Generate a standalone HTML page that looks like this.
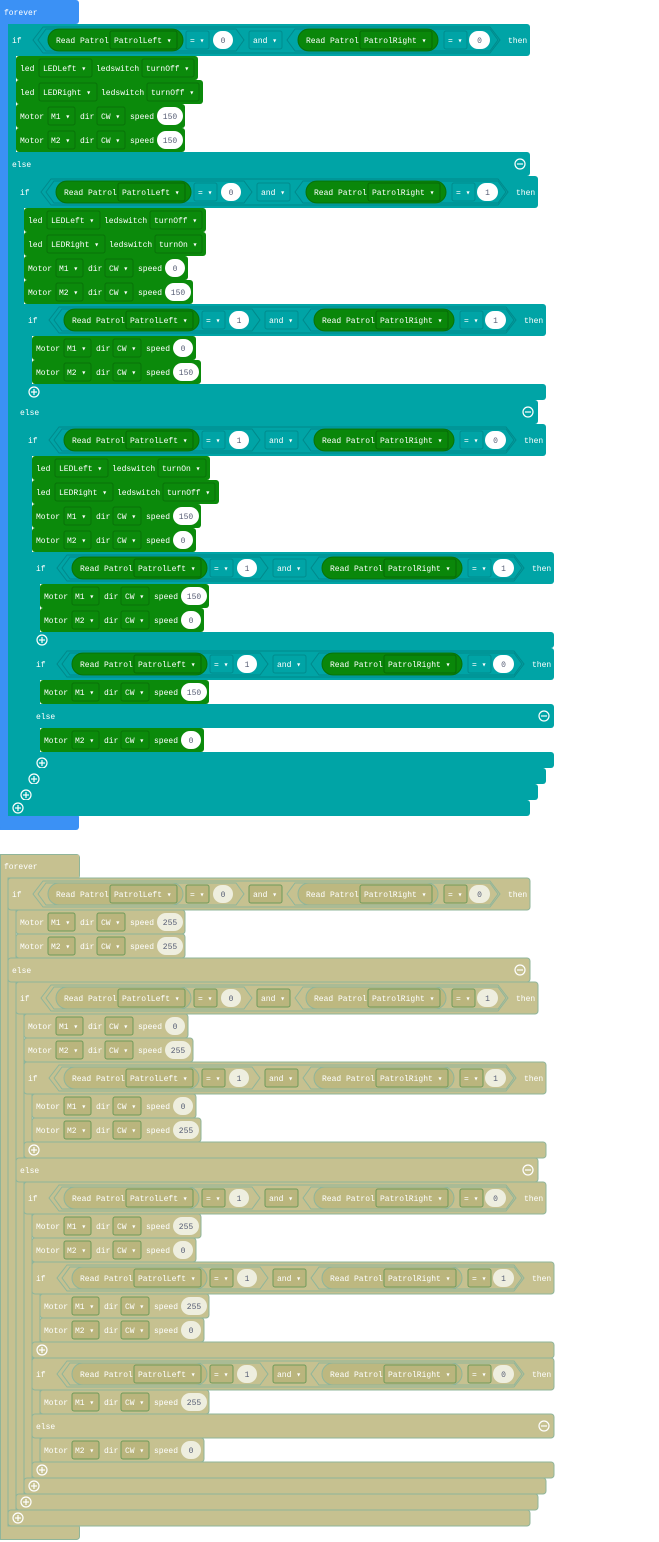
<!DOCTYPE html>
<html><head><meta charset="utf-8"><style>
html,body{margin:0;padding:0;background:#fff;width:659px;height:1542px;overflow:hidden}
svg{display:block}
text{fill:#fff;font-family:"Liberation Mono","DejaVu Sans Mono",monospace;font-size:8px}
.vt{fill:#575e75;text-anchor:middle}
.ic{fill:none;stroke:#fff;stroke-width:1.2}
.s1 .c{fill:#00a4a6}
.s1 .fv{fill:#3b91f5}
.s1 .b{fill:#0b8a0b}
.s1 .d{fill:none;stroke:#087208}
.s1 .e{fill:none;stroke:#008b8d}
.s1 .p{fill:#0a870a;stroke:#087208}
.s1 .pd{fill:none;stroke:#066a06}
.s1 .h{fill:none;stroke:#00898b}
.s1 .v{fill:#fff}
.s2 .c,.s2 .b,.s2 .fv{fill:#c6c190;stroke:#8fb59a;stroke-width:1}
.s2 .d,.s2 .e,.s2 .pd{fill:#bab57d;stroke:#6f9a5a}
.s2 .p{fill:#bdb880;stroke:#8fb59a}
.s2 .h{fill:none;stroke:#8fb59a}
.s2 .v{fill:#eeeedf}
</style></head><body>
<svg width="659" height="1542" viewBox="0 0 659 1542" xmlns="http://www.w3.org/2000/svg">

<!-- ================= SECTION 1 ================= -->
<g class="s1">
<rect class="fv" x="0" y="0" width="79" height="24" rx="3"/>
<rect class="fv" x="0" y="0" width="8" height="830"/>
<rect class="fv" x="0" y="814" width="79" height="16" rx="3"/>
<text x="4" y="15">forever</text>

<rect class="c" x="8" y="24" width="8" height="792"/>
<rect class="c" x="16" y="176" width="8" height="624"/>
<rect class="c" x="24" y="304" width="8" height="96"/>
<rect class="c" x="24" y="424" width="8" height="360"/>
<rect class="c" x="32" y="552" width="8" height="96"/>
<rect class="c" x="32" y="648" width="8" height="120"/>

<g transform="translate(8,40)"><rect class="c" x="0" y="-16" width="522" height="32" rx="3"/><text x="4" y="3">if</text><polygon class="h" points="25,0 35,-13 482,-13 492,0 482,13 35,13"/><polygon class="h" points="30,0 38,-11 228,-11 236,0 228,11 38,11"/><polygon class="h" points="279,0 287,-11 482,-11 490,0 482,11 287,11"/><rect class="p" x="40" y="-11" width="135" height="22" rx="11"/><text x="48" y="3">Read Patrol</text><rect class="pd" x="102" y="-9" width="67" height="18" rx="2"/><text x="106" y="3">PatrolLeft ▾</text><rect class="e" x="178" y="-9" width="23" height="18" rx="2"/><text x="182" y="3">= ▾</text><rect class="v" x="205" y="-9" width="20" height="18" rx="9"/><text class="vt" x="215" y="3">0</text><rect class="e" x="241" y="-9" width="33" height="18" rx="2"/><text x="245" y="3">and ▾</text><rect class="p" x="290" y="-11" width="140" height="22" rx="11"/><text x="298" y="3">Read Patrol</text><rect class="pd" x="352" y="-9" width="72" height="18" rx="2"/><text x="356" y="3">PatrolRight ▾</text><rect class="e" x="436" y="-9" width="23" height="18" rx="2"/><text x="440" y="3">= ▾</text><rect class="v" x="461" y="-9" width="21" height="18" rx="9"/><text class="vt" x="471.5" y="3">0</text><text x="500" y="3">then</text></g>

<g transform="translate(16,68)"><rect class="b" x="0" y="-12" width="182" height="24" rx="3"/><text x="4" y="3">led</text><rect class="d" x="23" y="-9" width="53" height="18" rx="2"/><text x="27" y="3">LEDLeft ▾</text><text x="80" y="3">ledswitch</text><rect class="d" x="126" y="-9" width="52" height="18" rx="2"/><text x="130" y="3">turnOff ▾</text></g>
<g transform="translate(16,92)"><rect class="b" x="0" y="-12" width="187" height="24" rx="3"/><text x="4" y="3">led</text><rect class="d" x="23" y="-9" width="58" height="18" rx="2"/><text x="27" y="3">LEDRight ▾</text><text x="85" y="3">ledswitch</text><rect class="d" x="131" y="-9" width="52" height="18" rx="2"/><text x="135" y="3">turnOff ▾</text></g>
<g transform="translate(16,116)"><rect class="b" x="0" y="-12" width="169" height="24" rx="3"/><text x="4" y="3">Motor</text><rect class="d" x="32" y="-9" width="27" height="18" rx="2"/><text x="35" y="3">M1 ▾</text><text x="64" y="3">dir</text><rect class="d" x="81" y="-9" width="28" height="18" rx="2"/><text x="85" y="3">CW ▾</text><text x="114" y="3">speed</text><rect class="v" x="141" y="-9" width="26" height="18" rx="9"/><text class="vt" x="154" y="3">150</text></g>
<g transform="translate(16,140)"><rect class="b" x="0" y="-12" width="169" height="24" rx="3"/><text x="4" y="3">Motor</text><rect class="d" x="32" y="-9" width="27" height="18" rx="2"/><text x="35" y="3">M2 ▾</text><text x="64" y="3">dir</text><rect class="d" x="81" y="-9" width="28" height="18" rx="2"/><text x="85" y="3">CW ▾</text><text x="114" y="3">speed</text><rect class="v" x="141" y="-9" width="26" height="18" rx="9"/><text class="vt" x="154" y="3">150</text></g>

<g transform="translate(8,164)"><rect class="c" x="0" y="-12" width="522" height="24" rx="3"/><text x="4" y="3">else</text><circle class="ic" cx="512" cy="0" r="5"/><line class="ic" x1="509" y1="0" x2="515" y2="0"/></g>

<g transform="translate(16,192)"><rect class="c" x="0" y="-16" width="522" height="32" rx="3"/><text x="4" y="3">if</text><polygon class="h" points="25,0 35,-13 482,-13 492,0 482,13 35,13"/><polygon class="h" points="30,0 38,-11 228,-11 236,0 228,11 38,11"/><polygon class="h" points="279,0 287,-11 482,-11 490,0 482,11 287,11"/><rect class="p" x="40" y="-11" width="135" height="22" rx="11"/><text x="48" y="3">Read Patrol</text><rect class="pd" x="102" y="-9" width="67" height="18" rx="2"/><text x="106" y="3">PatrolLeft ▾</text><rect class="e" x="178" y="-9" width="23" height="18" rx="2"/><text x="182" y="3">= ▾</text><rect class="v" x="205" y="-9" width="20" height="18" rx="9"/><text class="vt" x="215" y="3">0</text><rect class="e" x="241" y="-9" width="33" height="18" rx="2"/><text x="245" y="3">and ▾</text><rect class="p" x="290" y="-11" width="140" height="22" rx="11"/><text x="298" y="3">Read Patrol</text><rect class="pd" x="352" y="-9" width="72" height="18" rx="2"/><text x="356" y="3">PatrolRight ▾</text><rect class="e" x="436" y="-9" width="23" height="18" rx="2"/><text x="440" y="3">= ▾</text><rect class="v" x="461" y="-9" width="21" height="18" rx="9"/><text class="vt" x="471.5" y="3">1</text><text x="500" y="3">then</text></g>

<g transform="translate(24,220)"><rect class="b" x="0" y="-12" width="182" height="24" rx="3"/><text x="4" y="3">led</text><rect class="d" x="23" y="-9" width="53" height="18" rx="2"/><text x="27" y="3">LEDLeft ▾</text><text x="80" y="3">ledswitch</text><rect class="d" x="126" y="-9" width="52" height="18" rx="2"/><text x="130" y="3">turnOff ▾</text></g>
<g transform="translate(24,244)"><rect class="b" x="0" y="-12" width="182" height="24" rx="3"/><text x="4" y="3">led</text><rect class="d" x="23" y="-9" width="58" height="18" rx="2"/><text x="27" y="3">LEDRight ▾</text><text x="85" y="3">ledswitch</text><rect class="d" x="131" y="-9" width="47" height="18" rx="2"/><text x="135" y="3">turnOn ▾</text></g>
<g transform="translate(24,268)"><rect class="b" x="0" y="-12" width="164" height="24" rx="3"/><text x="4" y="3">Motor</text><rect class="d" x="32" y="-9" width="27" height="18" rx="2"/><text x="35" y="3">M1 ▾</text><text x="64" y="3">dir</text><rect class="d" x="81" y="-9" width="28" height="18" rx="2"/><text x="85" y="3">CW ▾</text><text x="114" y="3">speed</text><rect class="v" x="141" y="-9" width="20" height="18" rx="9"/><text class="vt" x="151" y="3">0</text></g>
<g transform="translate(24,292)"><rect class="b" x="0" y="-12" width="169" height="24" rx="3"/><text x="4" y="3">Motor</text><rect class="d" x="32" y="-9" width="27" height="18" rx="2"/><text x="35" y="3">M2 ▾</text><text x="64" y="3">dir</text><rect class="d" x="81" y="-9" width="28" height="18" rx="2"/><text x="85" y="3">CW ▾</text><text x="114" y="3">speed</text><rect class="v" x="141" y="-9" width="26" height="18" rx="9"/><text class="vt" x="154" y="3">150</text></g>

<g transform="translate(24,320)"><rect class="c" x="0" y="-16" width="522" height="32" rx="3"/><text x="4" y="3">if</text><polygon class="h" points="25,0 35,-13 482,-13 492,0 482,13 35,13"/><polygon class="h" points="30,0 38,-11 228,-11 236,0 228,11 38,11"/><polygon class="h" points="279,0 287,-11 482,-11 490,0 482,11 287,11"/><rect class="p" x="40" y="-11" width="135" height="22" rx="11"/><text x="48" y="3">Read Patrol</text><rect class="pd" x="102" y="-9" width="67" height="18" rx="2"/><text x="106" y="3">PatrolLeft ▾</text><rect class="e" x="178" y="-9" width="23" height="18" rx="2"/><text x="182" y="3">= ▾</text><rect class="v" x="205" y="-9" width="20" height="18" rx="9"/><text class="vt" x="215" y="3">1</text><rect class="e" x="241" y="-9" width="33" height="18" rx="2"/><text x="245" y="3">and ▾</text><rect class="p" x="290" y="-11" width="140" height="22" rx="11"/><text x="298" y="3">Read Patrol</text><rect class="pd" x="352" y="-9" width="72" height="18" rx="2"/><text x="356" y="3">PatrolRight ▾</text><rect class="e" x="436" y="-9" width="23" height="18" rx="2"/><text x="440" y="3">= ▾</text><rect class="v" x="461" y="-9" width="21" height="18" rx="9"/><text class="vt" x="471.5" y="3">1</text><text x="500" y="3">then</text></g>
<g transform="translate(32,348)"><rect class="b" x="0" y="-12" width="164" height="24" rx="3"/><text x="4" y="3">Motor</text><rect class="d" x="32" y="-9" width="27" height="18" rx="2"/><text x="35" y="3">M1 ▾</text><text x="64" y="3">dir</text><rect class="d" x="81" y="-9" width="28" height="18" rx="2"/><text x="85" y="3">CW ▾</text><text x="114" y="3">speed</text><rect class="v" x="141" y="-9" width="20" height="18" rx="9"/><text class="vt" x="151" y="3">0</text></g>
<g transform="translate(32,372)"><rect class="b" x="0" y="-12" width="169" height="24" rx="3"/><text x="4" y="3">Motor</text><rect class="d" x="32" y="-9" width="27" height="18" rx="2"/><text x="35" y="3">M2 ▾</text><text x="64" y="3">dir</text><rect class="d" x="81" y="-9" width="28" height="18" rx="2"/><text x="85" y="3">CW ▾</text><text x="114" y="3">speed</text><rect class="v" x="141" y="-9" width="26" height="18" rx="9"/><text class="vt" x="154" y="3">150</text></g>
<g transform="translate(24,392)"><rect class="c" x="0" y="-8" width="522" height="16" rx="3"/><circle class="ic" cx="10" cy="0" r="5"/><line class="ic" x1="7" y1="0" x2="13" y2="0"/><line class="ic" x1="10" y1="-3" x2="10" y2="3"/></g>

<g transform="translate(16,412)"><rect class="c" x="0" y="-12" width="522" height="24" rx="3"/><text x="4" y="3">else</text><circle class="ic" cx="512" cy="0" r="5"/><line class="ic" x1="509" y1="0" x2="515" y2="0"/></g>

<g transform="translate(24,440)"><rect class="c" x="0" y="-16" width="522" height="32" rx="3"/><text x="4" y="3">if</text><polygon class="h" points="25,0 35,-13 482,-13 492,0 482,13 35,13"/><polygon class="h" points="30,0 38,-11 228,-11 236,0 228,11 38,11"/><polygon class="h" points="279,0 287,-11 482,-11 490,0 482,11 287,11"/><rect class="p" x="40" y="-11" width="135" height="22" rx="11"/><text x="48" y="3">Read Patrol</text><rect class="pd" x="102" y="-9" width="67" height="18" rx="2"/><text x="106" y="3">PatrolLeft ▾</text><rect class="e" x="178" y="-9" width="23" height="18" rx="2"/><text x="182" y="3">= ▾</text><rect class="v" x="205" y="-9" width="20" height="18" rx="9"/><text class="vt" x="215" y="3">1</text><rect class="e" x="241" y="-9" width="33" height="18" rx="2"/><text x="245" y="3">and ▾</text><rect class="p" x="290" y="-11" width="140" height="22" rx="11"/><text x="298" y="3">Read Patrol</text><rect class="pd" x="352" y="-9" width="72" height="18" rx="2"/><text x="356" y="3">PatrolRight ▾</text><rect class="e" x="436" y="-9" width="23" height="18" rx="2"/><text x="440" y="3">= ▾</text><rect class="v" x="461" y="-9" width="21" height="18" rx="9"/><text class="vt" x="471.5" y="3">0</text><text x="500" y="3">then</text></g>
<g transform="translate(32,468)"><rect class="b" x="0" y="-12" width="178" height="24" rx="3"/><text x="4" y="3">led</text><rect class="d" x="23" y="-9" width="53" height="18" rx="2"/><text x="27" y="3">LEDLeft ▾</text><text x="80" y="3">ledswitch</text><rect class="d" x="126" y="-9" width="48" height="18" rx="2"/><text x="130" y="3">turnOn ▾</text></g>
<g transform="translate(32,492)"><rect class="b" x="0" y="-12" width="187" height="24" rx="3"/><text x="4" y="3">led</text><rect class="d" x="23" y="-9" width="58" height="18" rx="2"/><text x="27" y="3">LEDRight ▾</text><text x="85" y="3">ledswitch</text><rect class="d" x="131" y="-9" width="52" height="18" rx="2"/><text x="135" y="3">turnOff ▾</text></g>
<g transform="translate(32,516)"><rect class="b" x="0" y="-12" width="169" height="24" rx="3"/><text x="4" y="3">Motor</text><rect class="d" x="32" y="-9" width="27" height="18" rx="2"/><text x="35" y="3">M1 ▾</text><text x="64" y="3">dir</text><rect class="d" x="81" y="-9" width="28" height="18" rx="2"/><text x="85" y="3">CW ▾</text><text x="114" y="3">speed</text><rect class="v" x="141" y="-9" width="26" height="18" rx="9"/><text class="vt" x="154" y="3">150</text></g>
<g transform="translate(32,540)"><rect class="b" x="0" y="-12" width="164" height="24" rx="3"/><text x="4" y="3">Motor</text><rect class="d" x="32" y="-9" width="27" height="18" rx="2"/><text x="35" y="3">M2 ▾</text><text x="64" y="3">dir</text><rect class="d" x="81" y="-9" width="28" height="18" rx="2"/><text x="85" y="3">CW ▾</text><text x="114" y="3">speed</text><rect class="v" x="141" y="-9" width="20" height="18" rx="9"/><text class="vt" x="151" y="3">0</text></g>

<g transform="translate(32,568)"><rect class="c" x="0" y="-16" width="522" height="32" rx="3"/><text x="4" y="3">if</text><polygon class="h" points="25,0 35,-13 482,-13 492,0 482,13 35,13"/><polygon class="h" points="30,0 38,-11 228,-11 236,0 228,11 38,11"/><polygon class="h" points="279,0 287,-11 482,-11 490,0 482,11 287,11"/><rect class="p" x="40" y="-11" width="135" height="22" rx="11"/><text x="48" y="3">Read Patrol</text><rect class="pd" x="102" y="-9" width="67" height="18" rx="2"/><text x="106" y="3">PatrolLeft ▾</text><rect class="e" x="178" y="-9" width="23" height="18" rx="2"/><text x="182" y="3">= ▾</text><rect class="v" x="205" y="-9" width="20" height="18" rx="9"/><text class="vt" x="215" y="3">1</text><rect class="e" x="241" y="-9" width="33" height="18" rx="2"/><text x="245" y="3">and ▾</text><rect class="p" x="290" y="-11" width="140" height="22" rx="11"/><text x="298" y="3">Read Patrol</text><rect class="pd" x="352" y="-9" width="72" height="18" rx="2"/><text x="356" y="3">PatrolRight ▾</text><rect class="e" x="436" y="-9" width="23" height="18" rx="2"/><text x="440" y="3">= ▾</text><rect class="v" x="461" y="-9" width="21" height="18" rx="9"/><text class="vt" x="471.5" y="3">1</text><text x="500" y="3">then</text></g>
<g transform="translate(40,596)"><rect class="b" x="0" y="-12" width="169" height="24" rx="3"/><text x="4" y="3">Motor</text><rect class="d" x="32" y="-9" width="27" height="18" rx="2"/><text x="35" y="3">M1 ▾</text><text x="64" y="3">dir</text><rect class="d" x="81" y="-9" width="28" height="18" rx="2"/><text x="85" y="3">CW ▾</text><text x="114" y="3">speed</text><rect class="v" x="141" y="-9" width="26" height="18" rx="9"/><text class="vt" x="154" y="3">150</text></g>
<g transform="translate(40,620)"><rect class="b" x="0" y="-12" width="164" height="24" rx="3"/><text x="4" y="3">Motor</text><rect class="d" x="32" y="-9" width="27" height="18" rx="2"/><text x="35" y="3">M2 ▾</text><text x="64" y="3">dir</text><rect class="d" x="81" y="-9" width="28" height="18" rx="2"/><text x="85" y="3">CW ▾</text><text x="114" y="3">speed</text><rect class="v" x="141" y="-9" width="20" height="18" rx="9"/><text class="vt" x="151" y="3">0</text></g>
<g transform="translate(32,640)"><rect class="c" x="0" y="-8" width="522" height="16" rx="3"/><circle class="ic" cx="10" cy="0" r="5"/><line class="ic" x1="7" y1="0" x2="13" y2="0"/><line class="ic" x1="10" y1="-3" x2="10" y2="3"/></g>

<g transform="translate(32,664)"><rect class="c" x="0" y="-16" width="522" height="32" rx="3"/><text x="4" y="3">if</text><polygon class="h" points="25,0 35,-13 482,-13 492,0 482,13 35,13"/><polygon class="h" points="30,0 38,-11 228,-11 236,0 228,11 38,11"/><polygon class="h" points="279,0 287,-11 482,-11 490,0 482,11 287,11"/><rect class="p" x="40" y="-11" width="135" height="22" rx="11"/><text x="48" y="3">Read Patrol</text><rect class="pd" x="102" y="-9" width="67" height="18" rx="2"/><text x="106" y="3">PatrolLeft ▾</text><rect class="e" x="178" y="-9" width="23" height="18" rx="2"/><text x="182" y="3">= ▾</text><rect class="v" x="205" y="-9" width="20" height="18" rx="9"/><text class="vt" x="215" y="3">1</text><rect class="e" x="241" y="-9" width="33" height="18" rx="2"/><text x="245" y="3">and ▾</text><rect class="p" x="290" y="-11" width="140" height="22" rx="11"/><text x="298" y="3">Read Patrol</text><rect class="pd" x="352" y="-9" width="72" height="18" rx="2"/><text x="356" y="3">PatrolRight ▾</text><rect class="e" x="436" y="-9" width="23" height="18" rx="2"/><text x="440" y="3">= ▾</text><rect class="v" x="461" y="-9" width="21" height="18" rx="9"/><text class="vt" x="471.5" y="3">0</text><text x="500" y="3">then</text></g>
<g transform="translate(40,692)"><rect class="b" x="0" y="-12" width="169" height="24" rx="3"/><text x="4" y="3">Motor</text><rect class="d" x="32" y="-9" width="27" height="18" rx="2"/><text x="35" y="3">M1 ▾</text><text x="64" y="3">dir</text><rect class="d" x="81" y="-9" width="28" height="18" rx="2"/><text x="85" y="3">CW ▾</text><text x="114" y="3">speed</text><rect class="v" x="141" y="-9" width="26" height="18" rx="9"/><text class="vt" x="154" y="3">150</text></g>
<g transform="translate(32,716)"><rect class="c" x="0" y="-12" width="522" height="24" rx="3"/><text x="4" y="3">else</text><circle class="ic" cx="512" cy="0" r="5"/><line class="ic" x1="509" y1="0" x2="515" y2="0"/></g>
<g transform="translate(40,740)"><rect class="b" x="0" y="-12" width="164" height="24" rx="3"/><text x="4" y="3">Motor</text><rect class="d" x="32" y="-9" width="27" height="18" rx="2"/><text x="35" y="3">M2 ▾</text><text x="64" y="3">dir</text><rect class="d" x="81" y="-9" width="28" height="18" rx="2"/><text x="85" y="3">CW ▾</text><text x="114" y="3">speed</text><rect class="v" x="141" y="-9" width="20" height="18" rx="9"/><text class="vt" x="151" y="3">0</text></g>

<g transform="translate(32,760)"><rect class="c" x="0" y="-8" width="522" height="16" rx="3"/><circle class="ic" cx="10" cy="3" r="5"/><line class="ic" x1="7" y1="3" x2="13" y2="3"/><line class="ic" x1="10" y1="0" x2="10" y2="6"/></g>
<g transform="translate(24,776)"><rect class="c" x="0" y="-8" width="522" height="16" rx="3"/><circle class="ic" cx="10" cy="3" r="5"/><line class="ic" x1="7" y1="3" x2="13" y2="3"/><line class="ic" x1="10" y1="0" x2="10" y2="6"/></g>
<g transform="translate(16,792)"><rect class="c" x="0" y="-8" width="522" height="16" rx="3"/><circle class="ic" cx="10" cy="3" r="5"/><line class="ic" x1="7" y1="3" x2="13" y2="3"/><line class="ic" x1="10" y1="0" x2="10" y2="6"/></g>
<g transform="translate(8,808)"><rect class="c" x="0" y="-8" width="522" height="16" rx="3"/><circle class="ic" cx="10" cy="0" r="5"/><line class="ic" x1="7" y1="0" x2="13" y2="0"/><line class="ic" x1="10" y1="-3" x2="10" y2="3"/></g>
</g>

<!-- ================= SECTION 2 ================= -->
<g class="s2" transform="translate(0,854)">
<rect class="fv" x="0.5" y="0.5" width="79" height="24" rx="3"/>
<rect class="fv" x="0.5" y="0.5" width="8" height="685"/>
<rect class="fv" x="0.5" y="670.5" width="79" height="15" rx="3"/>
<rect x="1" y="1" width="7" height="684" fill="#c6c190"/>
<rect x="1" y="1" width="78" height="23" fill="#c6c190"/>
<text x="4" y="15">forever</text>
<rect class="c" x="8" y="24" width="8" height="648"/>
<rect class="c" x="16" y="128" width="8" height="528"/>
<rect class="c" x="24" y="208" width="8" height="96"/>
<rect class="c" x="24" y="328" width="8" height="312"/>
<rect class="c" x="32" y="408" width="8" height="96"/>
<rect class="c" x="32" y="504" width="8" height="120"/>

<g transform="translate(8,40)"><rect class="c" x="0" y="-16" width="522" height="32" rx="3"/><text x="4" y="3">if</text><polygon class="h" points="25,0 35,-13 482,-13 492,0 482,13 35,13"/><polygon class="h" points="30,0 38,-11 228,-11 236,0 228,11 38,11"/><polygon class="h" points="279,0 287,-11 482,-11 490,0 482,11 287,11"/><rect class="p" x="40" y="-11" width="135" height="22" rx="11"/><text x="48" y="3">Read Patrol</text><rect class="pd" x="102" y="-9" width="67" height="18" rx="2"/><text x="106" y="3">PatrolLeft ▾</text><rect class="e" x="178" y="-9" width="23" height="18" rx="2"/><text x="182" y="3">= ▾</text><rect class="v" x="205" y="-9" width="20" height="18" rx="9"/><text class="vt" x="215" y="3">0</text><rect class="e" x="241" y="-9" width="33" height="18" rx="2"/><text x="245" y="3">and ▾</text><rect class="p" x="290" y="-11" width="140" height="22" rx="11"/><text x="298" y="3">Read Patrol</text><rect class="pd" x="352" y="-9" width="72" height="18" rx="2"/><text x="356" y="3">PatrolRight ▾</text><rect class="e" x="436" y="-9" width="23" height="18" rx="2"/><text x="440" y="3">= ▾</text><rect class="v" x="461" y="-9" width="21" height="18" rx="9"/><text class="vt" x="471.5" y="3">0</text><text x="500" y="3">then</text></g>
<g transform="translate(16,68)"><rect class="b" x="0" y="-12" width="169" height="24" rx="3"/><text x="4" y="3">Motor</text><rect class="d" x="32" y="-9" width="27" height="18" rx="2"/><text x="35" y="3">M1 ▾</text><text x="64" y="3">dir</text><rect class="d" x="81" y="-9" width="28" height="18" rx="2"/><text x="85" y="3">CW ▾</text><text x="114" y="3">speed</text><rect class="v" x="141" y="-9" width="26" height="18" rx="9"/><text class="vt" x="154" y="3">255</text></g>
<g transform="translate(16,92)"><rect class="b" x="0" y="-12" width="169" height="24" rx="3"/><text x="4" y="3">Motor</text><rect class="d" x="32" y="-9" width="27" height="18" rx="2"/><text x="35" y="3">M2 ▾</text><text x="64" y="3">dir</text><rect class="d" x="81" y="-9" width="28" height="18" rx="2"/><text x="85" y="3">CW ▾</text><text x="114" y="3">speed</text><rect class="v" x="141" y="-9" width="26" height="18" rx="9"/><text class="vt" x="154" y="3">255</text></g>
<g transform="translate(8,116)"><rect class="c" x="0" y="-12" width="522" height="24" rx="3"/><text x="4" y="3">else</text><circle class="ic" cx="512" cy="0" r="5"/><line class="ic" x1="509" y1="0" x2="515" y2="0"/></g>

<g transform="translate(16,144)"><rect class="c" x="0" y="-16" width="522" height="32" rx="3"/><text x="4" y="3">if</text><polygon class="h" points="25,0 35,-13 482,-13 492,0 482,13 35,13"/><polygon class="h" points="30,0 38,-11 228,-11 236,0 228,11 38,11"/><polygon class="h" points="279,0 287,-11 482,-11 490,0 482,11 287,11"/><rect class="p" x="40" y="-11" width="135" height="22" rx="11"/><text x="48" y="3">Read Patrol</text><rect class="pd" x="102" y="-9" width="67" height="18" rx="2"/><text x="106" y="3">PatrolLeft ▾</text><rect class="e" x="178" y="-9" width="23" height="18" rx="2"/><text x="182" y="3">= ▾</text><rect class="v" x="205" y="-9" width="20" height="18" rx="9"/><text class="vt" x="215" y="3">0</text><rect class="e" x="241" y="-9" width="33" height="18" rx="2"/><text x="245" y="3">and ▾</text><rect class="p" x="290" y="-11" width="140" height="22" rx="11"/><text x="298" y="3">Read Patrol</text><rect class="pd" x="352" y="-9" width="72" height="18" rx="2"/><text x="356" y="3">PatrolRight ▾</text><rect class="e" x="436" y="-9" width="23" height="18" rx="2"/><text x="440" y="3">= ▾</text><rect class="v" x="461" y="-9" width="21" height="18" rx="9"/><text class="vt" x="471.5" y="3">1</text><text x="500" y="3">then</text></g>
<g transform="translate(24,172)"><rect class="b" x="0" y="-12" width="164" height="24" rx="3"/><text x="4" y="3">Motor</text><rect class="d" x="32" y="-9" width="27" height="18" rx="2"/><text x="35" y="3">M1 ▾</text><text x="64" y="3">dir</text><rect class="d" x="81" y="-9" width="28" height="18" rx="2"/><text x="85" y="3">CW ▾</text><text x="114" y="3">speed</text><rect class="v" x="141" y="-9" width="20" height="18" rx="9"/><text class="vt" x="151" y="3">0</text></g>
<g transform="translate(24,196)"><rect class="b" x="0" y="-12" width="169" height="24" rx="3"/><text x="4" y="3">Motor</text><rect class="d" x="32" y="-9" width="27" height="18" rx="2"/><text x="35" y="3">M2 ▾</text><text x="64" y="3">dir</text><rect class="d" x="81" y="-9" width="28" height="18" rx="2"/><text x="85" y="3">CW ▾</text><text x="114" y="3">speed</text><rect class="v" x="141" y="-9" width="26" height="18" rx="9"/><text class="vt" x="154" y="3">255</text></g>

<g transform="translate(24,224)"><rect class="c" x="0" y="-16" width="522" height="32" rx="3"/><text x="4" y="3">if</text><polygon class="h" points="25,0 35,-13 482,-13 492,0 482,13 35,13"/><polygon class="h" points="30,0 38,-11 228,-11 236,0 228,11 38,11"/><polygon class="h" points="279,0 287,-11 482,-11 490,0 482,11 287,11"/><rect class="p" x="40" y="-11" width="135" height="22" rx="11"/><text x="48" y="3">Read Patrol</text><rect class="pd" x="102" y="-9" width="67" height="18" rx="2"/><text x="106" y="3">PatrolLeft ▾</text><rect class="e" x="178" y="-9" width="23" height="18" rx="2"/><text x="182" y="3">= ▾</text><rect class="v" x="205" y="-9" width="20" height="18" rx="9"/><text class="vt" x="215" y="3">1</text><rect class="e" x="241" y="-9" width="33" height="18" rx="2"/><text x="245" y="3">and ▾</text><rect class="p" x="290" y="-11" width="140" height="22" rx="11"/><text x="298" y="3">Read Patrol</text><rect class="pd" x="352" y="-9" width="72" height="18" rx="2"/><text x="356" y="3">PatrolRight ▾</text><rect class="e" x="436" y="-9" width="23" height="18" rx="2"/><text x="440" y="3">= ▾</text><rect class="v" x="461" y="-9" width="21" height="18" rx="9"/><text class="vt" x="471.5" y="3">1</text><text x="500" y="3">then</text></g>
<g transform="translate(32,252)"><rect class="b" x="0" y="-12" width="164" height="24" rx="3"/><text x="4" y="3">Motor</text><rect class="d" x="32" y="-9" width="27" height="18" rx="2"/><text x="35" y="3">M1 ▾</text><text x="64" y="3">dir</text><rect class="d" x="81" y="-9" width="28" height="18" rx="2"/><text x="85" y="3">CW ▾</text><text x="114" y="3">speed</text><rect class="v" x="141" y="-9" width="20" height="18" rx="9"/><text class="vt" x="151" y="3">0</text></g>
<g transform="translate(32,276)"><rect class="b" x="0" y="-12" width="169" height="24" rx="3"/><text x="4" y="3">Motor</text><rect class="d" x="32" y="-9" width="27" height="18" rx="2"/><text x="35" y="3">M2 ▾</text><text x="64" y="3">dir</text><rect class="d" x="81" y="-9" width="28" height="18" rx="2"/><text x="85" y="3">CW ▾</text><text x="114" y="3">speed</text><rect class="v" x="141" y="-9" width="26" height="18" rx="9"/><text class="vt" x="154" y="3">255</text></g>
<g transform="translate(24,296)"><rect class="c" x="0" y="-8" width="522" height="16" rx="3"/><circle class="ic" cx="10" cy="0" r="5"/><line class="ic" x1="7" y1="0" x2="13" y2="0"/><line class="ic" x1="10" y1="-3" x2="10" y2="3"/></g>
<g transform="translate(16,316)"><rect class="c" x="0" y="-12" width="522" height="24" rx="3"/><text x="4" y="3">else</text><circle class="ic" cx="512" cy="0" r="5"/><line class="ic" x1="509" y1="0" x2="515" y2="0"/></g>

<g transform="translate(24,344)"><rect class="c" x="0" y="-16" width="522" height="32" rx="3"/><text x="4" y="3">if</text><polygon class="h" points="25,0 35,-13 482,-13 492,0 482,13 35,13"/><polygon class="h" points="30,0 38,-11 228,-11 236,0 228,11 38,11"/><polygon class="h" points="279,0 287,-11 482,-11 490,0 482,11 287,11"/><rect class="p" x="40" y="-11" width="135" height="22" rx="11"/><text x="48" y="3">Read Patrol</text><rect class="pd" x="102" y="-9" width="67" height="18" rx="2"/><text x="106" y="3">PatrolLeft ▾</text><rect class="e" x="178" y="-9" width="23" height="18" rx="2"/><text x="182" y="3">= ▾</text><rect class="v" x="205" y="-9" width="20" height="18" rx="9"/><text class="vt" x="215" y="3">1</text><rect class="e" x="241" y="-9" width="33" height="18" rx="2"/><text x="245" y="3">and ▾</text><rect class="p" x="290" y="-11" width="140" height="22" rx="11"/><text x="298" y="3">Read Patrol</text><rect class="pd" x="352" y="-9" width="72" height="18" rx="2"/><text x="356" y="3">PatrolRight ▾</text><rect class="e" x="436" y="-9" width="23" height="18" rx="2"/><text x="440" y="3">= ▾</text><rect class="v" x="461" y="-9" width="21" height="18" rx="9"/><text class="vt" x="471.5" y="3">0</text><text x="500" y="3">then</text></g>
<g transform="translate(32,372)"><rect class="b" x="0" y="-12" width="169" height="24" rx="3"/><text x="4" y="3">Motor</text><rect class="d" x="32" y="-9" width="27" height="18" rx="2"/><text x="35" y="3">M1 ▾</text><text x="64" y="3">dir</text><rect class="d" x="81" y="-9" width="28" height="18" rx="2"/><text x="85" y="3">CW ▾</text><text x="114" y="3">speed</text><rect class="v" x="141" y="-9" width="26" height="18" rx="9"/><text class="vt" x="154" y="3">255</text></g>
<g transform="translate(32,396)"><rect class="b" x="0" y="-12" width="164" height="24" rx="3"/><text x="4" y="3">Motor</text><rect class="d" x="32" y="-9" width="27" height="18" rx="2"/><text x="35" y="3">M2 ▾</text><text x="64" y="3">dir</text><rect class="d" x="81" y="-9" width="28" height="18" rx="2"/><text x="85" y="3">CW ▾</text><text x="114" y="3">speed</text><rect class="v" x="141" y="-9" width="20" height="18" rx="9"/><text class="vt" x="151" y="3">0</text></g>

<g transform="translate(32,424)"><rect class="c" x="0" y="-16" width="522" height="32" rx="3"/><text x="4" y="3">if</text><polygon class="h" points="25,0 35,-13 482,-13 492,0 482,13 35,13"/><polygon class="h" points="30,0 38,-11 228,-11 236,0 228,11 38,11"/><polygon class="h" points="279,0 287,-11 482,-11 490,0 482,11 287,11"/><rect class="p" x="40" y="-11" width="135" height="22" rx="11"/><text x="48" y="3">Read Patrol</text><rect class="pd" x="102" y="-9" width="67" height="18" rx="2"/><text x="106" y="3">PatrolLeft ▾</text><rect class="e" x="178" y="-9" width="23" height="18" rx="2"/><text x="182" y="3">= ▾</text><rect class="v" x="205" y="-9" width="20" height="18" rx="9"/><text class="vt" x="215" y="3">1</text><rect class="e" x="241" y="-9" width="33" height="18" rx="2"/><text x="245" y="3">and ▾</text><rect class="p" x="290" y="-11" width="140" height="22" rx="11"/><text x="298" y="3">Read Patrol</text><rect class="pd" x="352" y="-9" width="72" height="18" rx="2"/><text x="356" y="3">PatrolRight ▾</text><rect class="e" x="436" y="-9" width="23" height="18" rx="2"/><text x="440" y="3">= ▾</text><rect class="v" x="461" y="-9" width="21" height="18" rx="9"/><text class="vt" x="471.5" y="3">1</text><text x="500" y="3">then</text></g>
<g transform="translate(40,452)"><rect class="b" x="0" y="-12" width="169" height="24" rx="3"/><text x="4" y="3">Motor</text><rect class="d" x="32" y="-9" width="27" height="18" rx="2"/><text x="35" y="3">M1 ▾</text><text x="64" y="3">dir</text><rect class="d" x="81" y="-9" width="28" height="18" rx="2"/><text x="85" y="3">CW ▾</text><text x="114" y="3">speed</text><rect class="v" x="141" y="-9" width="26" height="18" rx="9"/><text class="vt" x="154" y="3">255</text></g>
<g transform="translate(40,476)"><rect class="b" x="0" y="-12" width="164" height="24" rx="3"/><text x="4" y="3">Motor</text><rect class="d" x="32" y="-9" width="27" height="18" rx="2"/><text x="35" y="3">M2 ▾</text><text x="64" y="3">dir</text><rect class="d" x="81" y="-9" width="28" height="18" rx="2"/><text x="85" y="3">CW ▾</text><text x="114" y="3">speed</text><rect class="v" x="141" y="-9" width="20" height="18" rx="9"/><text class="vt" x="151" y="3">0</text></g>
<g transform="translate(32,496)"><rect class="c" x="0" y="-8" width="522" height="16" rx="3"/><circle class="ic" cx="10" cy="0" r="5"/><line class="ic" x1="7" y1="0" x2="13" y2="0"/><line class="ic" x1="10" y1="-3" x2="10" y2="3"/></g>

<g transform="translate(32,520)"><rect class="c" x="0" y="-16" width="522" height="32" rx="3"/><text x="4" y="3">if</text><polygon class="h" points="25,0 35,-13 482,-13 492,0 482,13 35,13"/><polygon class="h" points="30,0 38,-11 228,-11 236,0 228,11 38,11"/><polygon class="h" points="279,0 287,-11 482,-11 490,0 482,11 287,11"/><rect class="p" x="40" y="-11" width="135" height="22" rx="11"/><text x="48" y="3">Read Patrol</text><rect class="pd" x="102" y="-9" width="67" height="18" rx="2"/><text x="106" y="3">PatrolLeft ▾</text><rect class="e" x="178" y="-9" width="23" height="18" rx="2"/><text x="182" y="3">= ▾</text><rect class="v" x="205" y="-9" width="20" height="18" rx="9"/><text class="vt" x="215" y="3">1</text><rect class="e" x="241" y="-9" width="33" height="18" rx="2"/><text x="245" y="3">and ▾</text><rect class="p" x="290" y="-11" width="140" height="22" rx="11"/><text x="298" y="3">Read Patrol</text><rect class="pd" x="352" y="-9" width="72" height="18" rx="2"/><text x="356" y="3">PatrolRight ▾</text><rect class="e" x="436" y="-9" width="23" height="18" rx="2"/><text x="440" y="3">= ▾</text><rect class="v" x="461" y="-9" width="21" height="18" rx="9"/><text class="vt" x="471.5" y="3">0</text><text x="500" y="3">then</text></g>
<g transform="translate(40,548)"><rect class="b" x="0" y="-12" width="169" height="24" rx="3"/><text x="4" y="3">Motor</text><rect class="d" x="32" y="-9" width="27" height="18" rx="2"/><text x="35" y="3">M1 ▾</text><text x="64" y="3">dir</text><rect class="d" x="81" y="-9" width="28" height="18" rx="2"/><text x="85" y="3">CW ▾</text><text x="114" y="3">speed</text><rect class="v" x="141" y="-9" width="26" height="18" rx="9"/><text class="vt" x="154" y="3">255</text></g>
<g transform="translate(32,572)"><rect class="c" x="0" y="-12" width="522" height="24" rx="3"/><text x="4" y="3">else</text><circle class="ic" cx="512" cy="0" r="5"/><line class="ic" x1="509" y1="0" x2="515" y2="0"/></g>
<g transform="translate(40,596)"><rect class="b" x="0" y="-12" width="164" height="24" rx="3"/><text x="4" y="3">Motor</text><rect class="d" x="32" y="-9" width="27" height="18" rx="2"/><text x="35" y="3">M2 ▾</text><text x="64" y="3">dir</text><rect class="d" x="81" y="-9" width="28" height="18" rx="2"/><text x="85" y="3">CW ▾</text><text x="114" y="3">speed</text><rect class="v" x="141" y="-9" width="20" height="18" rx="9"/><text class="vt" x="151" y="3">0</text></g>

<g transform="translate(32,616)"><rect class="c" x="0" y="-8" width="522" height="16" rx="3"/><circle class="ic" cx="10" cy="0" r="5"/><line class="ic" x1="7" y1="0" x2="13" y2="0"/><line class="ic" x1="10" y1="-3" x2="10" y2="3"/></g>
<g transform="translate(24,632)"><rect class="c" x="0" y="-8" width="522" height="16" rx="3"/><circle class="ic" cx="10" cy="0" r="5"/><line class="ic" x1="7" y1="0" x2="13" y2="0"/><line class="ic" x1="10" y1="-3" x2="10" y2="3"/></g>
<g transform="translate(16,648)"><rect class="c" x="0" y="-8" width="522" height="16" rx="3"/><circle class="ic" cx="10" cy="0" r="5"/><line class="ic" x1="7" y1="0" x2="13" y2="0"/><line class="ic" x1="10" y1="-3" x2="10" y2="3"/></g>
<g transform="translate(8,664)"><rect class="c" x="0" y="-8" width="522" height="16" rx="3"/><circle class="ic" cx="10" cy="0" r="5"/><line class="ic" x1="7" y1="0" x2="13" y2="0"/><line class="ic" x1="10" y1="-3" x2="10" y2="3"/></g>
</g>
</svg>
</body></html>
